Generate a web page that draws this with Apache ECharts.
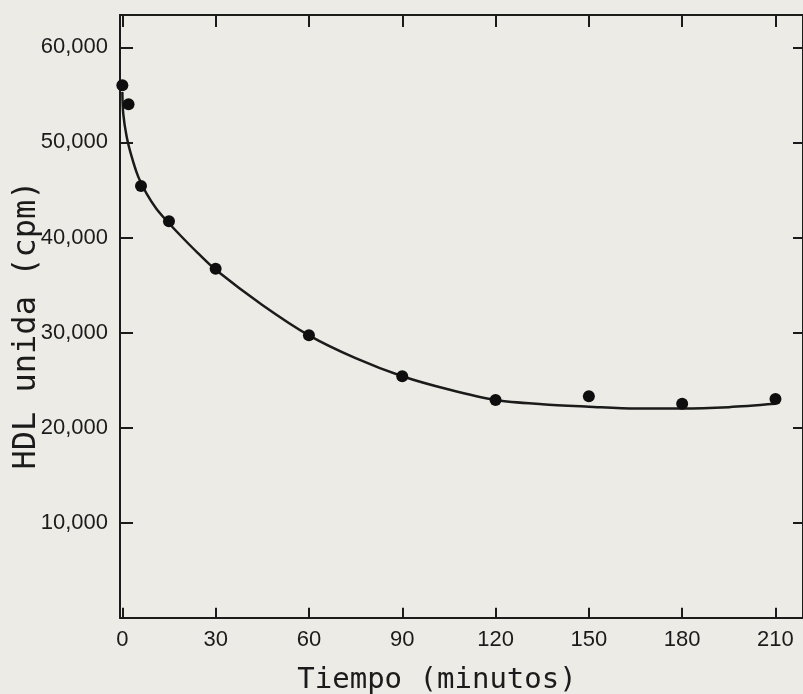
<!DOCTYPE html>
<html>
<head>
<meta charset="utf-8">
<script src="https://cdn.jsdelivr.net/npm/echarts@6/dist/echarts.min.js"></script>
<style>
html,body{margin:0;padding:0;background:#ecebe5;}
#c{width:803px;height:694px;}
</style>
</head>
<body>
<div id="c"></div>
<script>
// Data
const xTicks = [0, 30, 60, 90, 120, 150, 180, 210];
const yTicks = [10000, 20000, 30000, 40000, 50000, 60000];
const pointTimes = [0, 2, 6, 15, 30, 60, 90, 120, 150, 180, 210];
const pointValues = [56000, 54000, 45400, 41700, 36700, 29700, 25400, 22900, 23300, 22500, 23000];
const curveTimes = [0, 0.3, 1.4, 3, 5.1, 7.8, 11, 14.7, 19, 24.3, 30, 45, 60, 75, 90, 105, 120, 135, 150, 165, 180, 195, 210];
const curveValues = [55300, 53000, 50600, 48500, 46400, 44600, 43000, 41600, 40100, 38350, 36600, 32900, 29700, 27300, 25400, 24000, 22900, 22450, 22200, 22000, 22000, 22150, 22500];
const xTitle = 'Tiempo (minutos)';
const yTitle = 'HDL unida (cpm)';

const ink = '#1b1b1b';
const fmt = v => String(v).replace(/\B(?=(\d{3})+(?!\d))/g, ',');

const chart = echarts.init(document.getElementById('c'), null, {renderer: 'canvas'});
const xBase = {
  type: 'value', min: -0.75, max: 218.85,
  splitLine: {show: false},
  axisLine: {show: true, onZero: false, lineStyle: {color: ink, width: 2}}
};
const yBase = {
  type: 'value', min: 0, max: 63400,
  splitLine: {show: false},
  axisLine: {show: true, onZero: false, lineStyle: {color: ink, width: 2}}
};
chart.setOption({
  backgroundColor: '#ecebe5',
  animation: false,
  grid: {left: 120, top: 15, width: 686, height: 602.7, containLabel: false},
  xAxis: [
    Object.assign({}, xBase, {
      position: 'bottom',
      axisTick: {inside: true, length: 10, customValues: xTicks, lineStyle: {color: ink, width: 2}},
      axisLabel: {customValues: xTicks, margin: 11, color: ink, fontFamily: 'Liberation Sans', fontSize: 22}
    }),
    Object.assign({}, xBase, {
      position: 'top',
      axisTick: {inside: true, length: 12, customValues: xTicks, lineStyle: {color: ink, width: 2}},
      axisLabel: {show: false}
    })
  ],
  yAxis: [
    Object.assign({}, yBase, {
      position: 'left',
      axisTick: {inside: true, length: 13, customValues: yTicks, lineStyle: {color: ink, width: 2}},
      axisLabel: {customValues: yTicks, formatter: fmt, margin: 12, color: ink, fontFamily: 'Liberation Sans', fontSize: 22}
    }),
    Object.assign({}, yBase, {
      position: 'right',
      axisTick: {inside: true, length: 10, customValues: yTicks, lineStyle: {color: ink, width: 2}},
      axisLabel: {show: false}
    })
  ],
  series: [
    {
      type: 'line',
      data: curveTimes.map((t, i) => [t, curveValues[i]]),
      smooth: 0.3,
      showSymbol: false,
      lineStyle: {color: ink, width: 2.5},
      z: 2
    },
    {
      type: 'scatter',
      data: pointTimes.map((t, i) => [t, pointValues[i]]),
      symbol: 'circle',
      symbolSize: 12,
      itemStyle: {color: '#0e0e0e', opacity: 1},
      z: 3
    }
  ],
  graphic: [
    {
      type: 'text', x: 437, y: 680,
      style: {text: xTitle, fill: ink, font: '29px "DejaVu Sans Mono"', align: 'center', verticalAlign: 'middle'}
    },
    {
      type: 'text', x: 27, y: 325, rotation: Math.PI / 2,
      style: {text: yTitle, fill: ink, font: '32px "DejaVu Sans Mono"', align: 'center', verticalAlign: 'middle'}
    }
  ]
});
</script>
</body>
</html>
